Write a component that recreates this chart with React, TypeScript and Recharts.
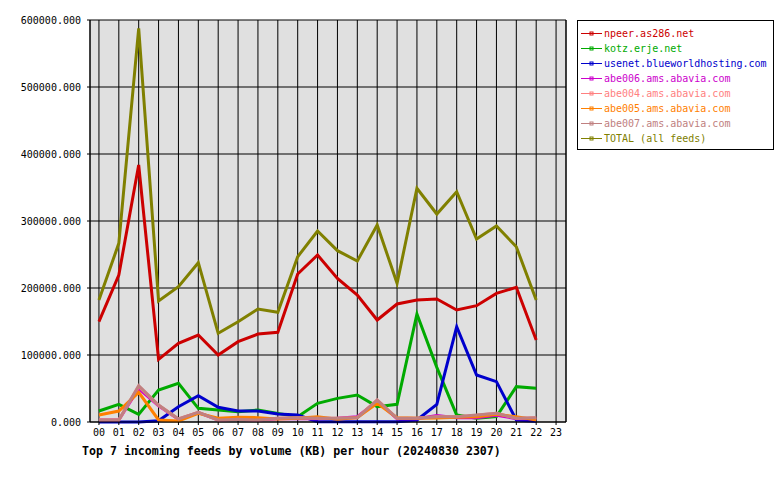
import React from 'react';
import { LineChart, Line, XAxis, YAxis, CartesianGrid, ReferenceLine } from 'recharts';

const hours = [0, 1, 2, 3, 4, 5, 6, 7, 8, 9, 10, 11, 12, 13, 14, 15, 16, 17, 18, 19, 20, 21, 22];
const hourTicks = [0, 1, 2, 3, 4, 5, 6, 7, 8, 9, 10, 11, 12, 13, 14, 15, 16, 17, 18, 19, 20, 21, 22, 23];
const valueTicks = [0, 100000, 200000, 300000, 400000, 500000, 600000];

const npeer = [149700, 219400, 383600, 93500, 117400, 129800, 100000, 119900, 131300, 133800, 220900, 249200, 214400, 189500, 152200, 176100, 182100, 183600, 167200, 173600, 192000, 201000, 122400];
const kotz = [16400, 26400, 11400, 47800, 57700, 20400, 17900, 15400, 17900, 12900, 8000, 27900, 35300, 40300, 22900, 26400, 161200, 81600, 10400, 5500, 8000, 52700, 50200];
const usenet = [0, 0, 0, 2000, 22900, 39300, 21900, 16400, 16400, 11900, 10400, 500, 500, 500, 500, 500, 3000, 26400, 142300, 70100, 60200, 3000, 1000];
const abe006 = [3000, 3000, 50000, 24000, 4000, 14000, 3000, 4000, 3000, 5000, 5000, 5000, 5500, 8000, 31000, 5000, 5000, 9500, 6500, 6500, 10000, 5000, 5000];
const abe004 = [3000, 3000, 53000, 25000, 4500, 14400, 3000, 4000, 3000, 5500, 6500, 5500, 5500, 6500, 32800, 5500, 5500, 8000, 8000, 10000, 12900, 5500, 6500];
const abe005 = [10400, 16400, 44300, 3000, 1500, 12900, 5500, 7000, 6500, 4500, 5500, 8000, 4000, 6500, 27900, 6500, 5500, 6000, 7000, 8000, 11400, 8000, 3000];
const abe007 = [3000, 3000, 54200, 25400, 4500, 14400, 3000, 4000, 3000, 5500, 6500, 5500, 5500, 6500, 32800, 5500, 5500, 8000, 8000, 10400, 12900, 5500, 6500];
const total = [182000, 266700, 587600, 180600, 202000, 237800, 132400, 149700, 168600, 163700, 246700, 285000, 255700, 240300, 294000, 207000, 348800, 310400, 343700, 273100, 292500, 261600, 182000];

const series = [
  { key: 'npeer', name: 'npeer.as286.net', color: '#cc0000', values: npeer },
  { key: 'kotz', name: 'kotz.erje.net', color: '#00aa00', values: kotz },
  { key: 'usenet', name: 'usenet.blueworldhosting.com', color: '#0000cc', values: usenet },
  { key: 'abe006', name: 'abe006.ams.abavia.com', color: '#cc00cc', values: abe006 },
  { key: 'abe004', name: 'abe004.ams.abavia.com', color: '#ff8080', values: abe004 },
  { key: 'abe005', name: 'abe005.ams.abavia.com', color: '#ff8000', values: abe005 },
  { key: 'abe007', name: 'abe007.ams.abavia.com', color: '#c08080', values: abe007 },
  { key: 'total', name: 'TOTAL (all feeds)', color: '#808000', values: total },
];

const data = hours.map((h, i) => {
  const row: any = { hour: h };
  series.forEach(s => { row[s.key] = s.values[i]; });
  return row;
});

const mono = '"DejaVu Sans Mono", monospace';

function FeedLegend() {
  return (
    <div style={{ position: 'absolute', left: 577, top: 20, border: '1px solid #000', width: 197, height: 130, boxSizing: 'border-box', background: '#fff', paddingTop: 5 }}>
      {series.map(s => (
        <div key={s.key} style={{ display: 'flex', alignItems: 'center', height: 15, fontFamily: mono, fontSize: 10, color: s.color, whiteSpace: 'nowrap' }}>
          <svg width={26} height={15} style={{ flex: 'none' }}>
            <line x1={3} y1={7.5} x2={24} y2={7.5} stroke={s.color} strokeWidth={1} />
            <rect x={12} y={6} width={3} height={3} fill="none" stroke={s.color} strokeWidth={1} />
          </svg>
          <span>{s.name}</span>
        </div>
      ))}
    </div>
  );
}

export default function App() {
  return (
    <div style={{ position: 'fixed', left: 0, top: 0, width: 780, height: 480, background: '#fff' }}>
      <LineChart width={780} height={480} data={data} margin={{ top: 20, right: 214, left: 0, bottom: 36 }}>
        <CartesianGrid stroke="#000" strokeWidth={1} fill="#e0e0e0" />
        <XAxis
          dataKey="hour"
          type="number"
          domain={[-0.45, 23.5]}
          allowDataOverflow
          ticks={hourTicks}
          interval={0}
          tickFormatter={(v: number) => String(v).padStart(2, '0')}
          tick={{ fontFamily: mono, fontSize: 10, fill: '#000' }}
          tickSize={3}
          tickMargin={4}
          height={22}
          stroke="#000"
        />
        <YAxis
          domain={[0, 600000]}
          ticks={valueTicks}
          tickFormatter={(v: number) => v.toFixed(3)}
          tick={{ fontFamily: mono, fontSize: 10, fill: '#000' }}
          tickSize={3}
          tickMargin={6}
          width={90}
          stroke="#000"
        />
        <ReferenceLine x={23.5} stroke="#000" />
        {series.map(s => (
          <Line
            key={s.key}
            type="linear"
            dataKey={s.key}
            name={s.name}
            stroke={s.color}
            strokeWidth={3}
            dot={false}
            isAnimationActive={false}
          />
        ))}
      </LineChart>
      <FeedLegend />
      <div style={{ position: 'absolute', left: 82, top: 444, fontFamily: mono, fontSize: 11.6, fontWeight: 'bold', color: '#000', whiteSpace: 'nowrap' }}>
        Top 7 incoming feeds by volume (KB) per hour (20240830 2307)
      </div>
    </div>
  );
}
